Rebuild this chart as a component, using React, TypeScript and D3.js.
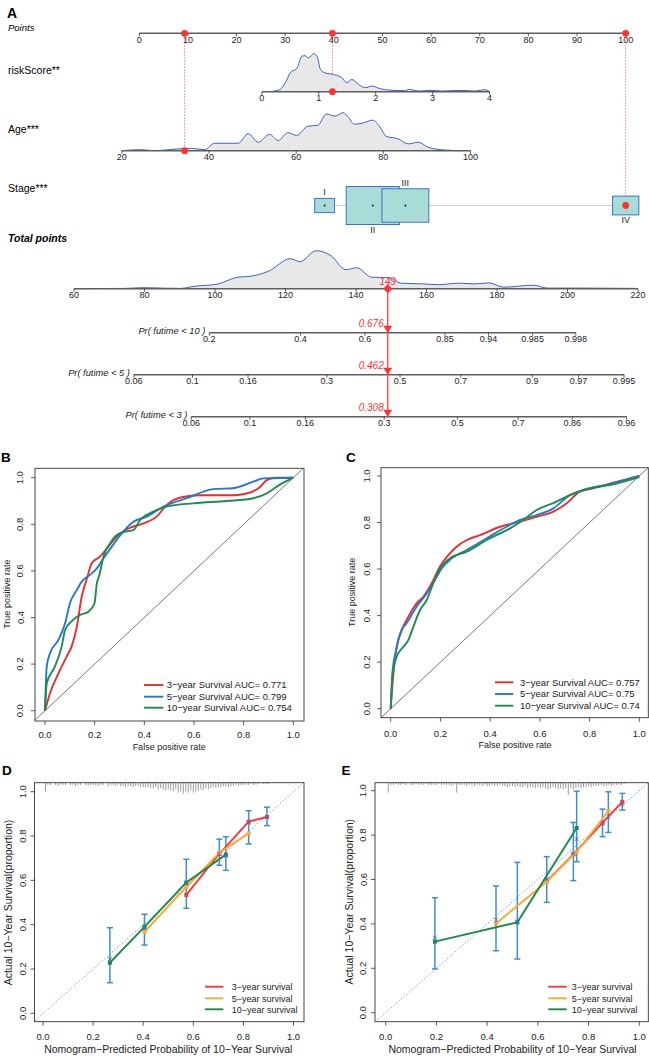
import React from "react";
import * as d3 from "d3";

const W = 649;
const H = 1057;
const FONT = "'Liberation Sans', Arial, Helvetica, sans-serif";

// ---------- A: nomogram ----------
const pointsTicks = [0, 10, 20, 30, 40, 50, 60, 70, 80, 90, 100];
const riskTicks = [0, 1, 2, 3, 4];
const riskPts = [25.2, 72.0]; // points given at riskScore 0 and 4
const ageTicks = [20, 40, 60, 80, 100];
const agePts = [-3.6, 68.1]; // points given at age 20 and 100
const stageLevels = ["I", "II", "III", "IV"];
const stagePts = [38.1, 48.0, 54.7, 100];
const stageCounts = [28, 201, 156, 49];
const totalTicks = [60, 80, 100, 120, 140, 160, 180, 200, 220];

const riskGrid = [0.18, 0.32, 0.41, 0.5, 0.62, 0.7, 0.76, 0.82, 0.91, 0.97, 1.03, 1.11, 1.26, 1.41, 1.49, 1.58, 1.7, 1.82, 1.93, 2.08, 2.23, 2.52, 2.58, 2.75, 2.99, 3.16, 3.51, 3.75, 3.92, 4.0];
const riskDens = [0.3, 2.3, 9, 19, 24, 35.7, 36.3, 34, 38.3, 35.7, 22.3, 19, 17.3, 14, 9, 12.3, 7.3, 4, 5.7, 3, 1.7, 1, 2.3, 0.7, 1.3, 0.7, 1.3, 0.7, 2, 0.3];
const ageGrid = [20, 24.5, 27.6, 31.4, 36, 39, 41.3, 43.6, 46.7, 49, 51.3, 53.9, 55.9, 58.1, 60.1, 62.7, 65, 66.9, 68.9, 70.8, 71.9, 73.4, 75.4, 77.6, 79.2, 80.7, 83.4, 85.7, 88, 90.3, 94.1, 97.9];
const ageDens = [0, 1, 0, 1.3, 2.3, 1, 7.3, 7.3, 7.3, 16.7, 8.3, 16, 10, 17.7, 15, 24, 25, 36, 34, 37.3, 33.3, 26, 27.3, 30, 23.3, 14, 11.7, 6.7, 8.3, 3.3, 0.7, 0];
const totalGrid = [60, 74.5, 79.7, 86, 90.2, 94.3, 100.6, 105.8, 111, 115.2, 121.4, 124.1, 128.7, 132.9, 137.1, 140.2, 144.4, 149.6, 152.7, 159, 163.2, 169.4, 173.6, 177.8, 181.9, 190.3, 194.4, 204.9, 219.4];
const totalDens = [0, 0.3, 1, 0.5, 0.3, 2.5, 4.5, 11, 13, 17.5, 30, 27, 38, 33, 19, 21, 11.5, 11, 5.5, 4.8, 4, 5.5, 4.8, 5.8, 1.5, 3.5, 0.6, 0.6, 0.3];

const patientAge = 34.4;
const patientRisk = 1.24;
const patientStage = "IV";
const patientTotal = 149;

const probLabels = ["Pr( futime < 10 )", "Pr( futime < 5 )", "Pr( futime < 3 )"];
const probTicks10 = [0.2, 0.4, 0.6, 0.85, 0.94, 0.985, 0.998];
const probTicks5 = [0.06, 0.1, 0.16, 0.3, 0.5, 0.7, 0.9, 0.97, 0.995];
const probTicks3 = [0.06, 0.1, 0.16, 0.3, 0.5, 0.7, 0.86, 0.96];
const patientProbs = [0.676, 0.462, 0.308];
const cloglogSlope = 0.032; // per total point

// ---------- B, C: ROC ----------
const rocLabels = ["3\u2212year Survival AUC= ", "5\u2212year Survival AUC= ", "10\u2212year Survival AUC= "];
const aucB = ["0.771", "0.799", "0.754"];
const aucC = ["0.757", "0.75", "0.74"];
const rocB3: [number, number][] = [[0, 0], [0.02, 0.075], [0.054, 0.16], [0.087, 0.232], [0.107, 0.275], [0.128, 0.36], [0.148, 0.49], [0.171, 0.575], [0.188, 0.633], [0.221, 0.661], [0.255, 0.704], [0.295, 0.754], [0.336, 0.782], [0.396, 0.804], [0.45, 0.833], [0.49, 0.883], [0.55, 0.916], [0.624, 0.925], [0.758, 0.925], [0.812, 0.932], [0.866, 0.96], [0.893, 0.99], [0.933, 1.0], [1, 1]];
const rocB5: [number, number][] = [[0, 0], [0.007, 0.19], [0.02, 0.246], [0.054, 0.304], [0.081, 0.375], [0.1, 0.46], [0.128, 0.518], [0.148, 0.554], [0.181, 0.583], [0.208, 0.61], [0.235, 0.653], [0.269, 0.704], [0.309, 0.761], [0.356, 0.811], [0.41, 0.833], [0.477, 0.876], [0.571, 0.912], [0.678, 0.951], [0.758, 0.955], [0.839, 0.983], [0.879, 0.997], [1, 1]];
const rocB10: [number, number][] = [[0, 0], [0.007, 0.117], [0.04, 0.19], [0.067, 0.275], [0.081, 0.347], [0.107, 0.383], [0.141, 0.411], [0.175, 0.425], [0.199, 0.46], [0.208, 0.54], [0.221, 0.59], [0.235, 0.66], [0.262, 0.718], [0.289, 0.754], [0.322, 0.768], [0.356, 0.775], [0.383, 0.818], [0.436, 0.854], [0.49, 0.876], [0.597, 0.89], [0.732, 0.9], [0.839, 0.912], [0.893, 0.933], [0.946, 0.97], [1, 1]];
const rocC3: [number, number][] = [[0, 0], [0.011, 0.152], [0.024, 0.266], [0.044, 0.338], [0.064, 0.381], [0.104, 0.453], [0.131, 0.481], [0.165, 0.539], [0.198, 0.611], [0.232, 0.66], [0.265, 0.696], [0.306, 0.725], [0.359, 0.746], [0.44, 0.782], [0.52, 0.804], [0.587, 0.825], [0.654, 0.847], [0.708, 0.883], [0.761, 0.933], [0.815, 0.947], [0.895, 0.971], [1, 1]];
const rocC5: [number, number][] = [[0, 0], [0.008, 0.166], [0.022, 0.252], [0.044, 0.338], [0.064, 0.367], [0.104, 0.438], [0.145, 0.495], [0.178, 0.553], [0.205, 0.603], [0.245, 0.646], [0.306, 0.682], [0.386, 0.732], [0.466, 0.782], [0.52, 0.811], [0.587, 0.832], [0.654, 0.861], [0.721, 0.918], [0.775, 0.94], [0.88, 0.965], [1, 1]];
const rocC10: [number, number][] = [[0, 0], [0.008, 0.152], [0.024, 0.223], [0.051, 0.266], [0.071, 0.295], [0.091, 0.352], [0.118, 0.424], [0.145, 0.467], [0.171, 0.539], [0.198, 0.603], [0.238, 0.646], [0.306, 0.675], [0.386, 0.725], [0.48, 0.775], [0.533, 0.811], [0.587, 0.854], [0.654, 0.883], [0.721, 0.918], [0.788, 0.943], [0.9, 0.965], [1, 0.995]];
const rocColors = ["#ec2d2d", "#1f7bcc", "#1f8c4c"];

// ---------- D, E: calibration ----------
const calLabels = ["3\u2212year survival", "5\u2212year survival", "10\u2212year survival"];
const calColors = ["#ff3535", "#ffa834", "#1f8a4c"];
type CalPt = { x: number; y: number; lo?: number; hi?: number };
const calD3: CalPt[] = [{ x: 0.572, y: 0.534 }, { x: 0.704, y: 0.72 }, { x: 0.821, y: 0.865, lo: 0.764, hi: 0.914 }, { x: 0.894, y: 0.886, lo: 0.847, hi: 0.93 }];
const calD5: CalPt[] = [{ x: 0.405, y: 0.368, lo: 0.308, hi: 0.447 }, { x: 0.572, y: 0.57 }, { x: 0.704, y: 0.725, lo: 0.668, hi: 0.786 }, { x: 0.821, y: 0.812 }];
const calD10: CalPt[] = [{ x: 0.267, y: 0.228, lo: 0.138, hi: 0.386 }, { x: 0.405, y: 0.39 }, { x: 0.572, y: 0.59, lo: 0.474, hi: 0.695 }, { x: 0.73, y: 0.716, lo: 0.645, hi: 0.797 }];
const crossD: [number, number][] = [[0.267, 0.245], [0.405, 0.383], [0.572, 0.585], [0.704, 0.72], [0.73, 0.71], [0.821, 0.86], [0.894, 0.886]];
const calE3: CalPt[] = [{ x: 0.635, y: 0.593, lo: 0.497, hi: 0.703 }, { x: 0.74, y: 0.713, lo: 0.595, hi: 0.857 }, { x: 0.855, y: 0.856, lo: 0.793, hi: 0.917 }, { x: 0.933, y: 0.95, lo: 0.913, hi: 0.988 }];
const calE5: CalPt[] = [{ x: 0.435, y: 0.402, lo: 0.279, hi: 0.571 }, { x: 0.635, y: 0.59 }, { x: 0.753, y: 0.725, lo: 0.68, hi: 0.998 }, { x: 0.878, y: 0.908, lo: 0.812, hi: 0.995 }];
const calE10: CalPt[] = [{ x: 0.194, y: 0.32, lo: 0.197, hi: 0.518 }, { x: 0.519, y: 0.407, lo: 0.242, hi: 0.677 }, { x: 0.753, y: 0.832 }];
const crossE: [number, number][] = [[0.194, 0.338], [0.435, 0.417], [0.519, 0.41], [0.635, 0.6], [0.74, 0.715], [0.753, 0.782], [0.855, 0.85], [0.878, 0.883], [0.933, 0.94]];
// rug counts per 0.01 bin of predicted probability, starting at 0.01
const rugD = [8, 2, 2, 0, 2, 3, 2, 2, 2, 0, 2, 2, 3, 2, 2, 0, 2, 3, 2, 2, 2, 3, 2, 2, 0, 3, 2, 2, 3, 2, 3, 3, 4, 3, 3, 4, 3, 3, 4, 4, 4, 4, 5, 5, 4, 6, 5, 6, 7, 6, 7, 8, 6, 9, 8, 10, 8, 9, 7, 9, 8, 7, 6, 7, 5, 6, 5, 4, 5, 4, 4, 3, 3, 4, 3, 3, 2, 3, 2, 2, 2, 2, 1, 2, 2, 1, 0, 1, 1, 1];
const rugE = [9, 2, 2, 1, 2, 2, 1, 2, 0, 2, 2, 1, 2, 2, 2, 1, 2, 2, 2, 2, 1, 2, 2, 2, 2, 3, 2, 9, 2, 2, 2, 3, 2, 2, 3, 2, 2, 3, 2, 3, 3, 2, 3, 3, 2, 3, 3, 4, 3, 3, 4, 3, 4, 4, 3, 5, 4, 4, 5, 4, 5, 4, 5, 6, 5, 4, 5, 6, 5, 6, 5, 11, 5, 6, 5, 4, 5, 4, 4, 3, 4, 3, 3, 3, 2, 3, 3, 2, 3, 2, 2, 2, 2, 1];
const unitTicks = [0, 0.2, 0.4, 0.6, 0.8, 1.0];

// ---------- helpers ----------
const AXIS = "#5e5e5e";
const RED = "#ff3030";

function NomoAxis({ x1, x2, y, ticks }: { x1: number; x2: number; y: number; ticks: { x: number; label: string }[] }) {
  return (
    <g>
      <line x1={x1} x2={x2} y1={y} y2={y} stroke={AXIS} strokeWidth={1.5} />
      {ticks.map((t, i) => (
        <g key={i}>
          <line x1={t.x} x2={t.x} y1={y} y2={y + 3} stroke="#333" strokeWidth={0.8} />
          <text x={t.x} y={y + 9.6} fontSize={9} textAnchor="middle" fill="#222">{t.label}</text>
        </g>
      ))}
    </g>
  );
}

function Density({ xs, ds, toX, y }: { xs: number[]; ds: number[]; toX: (v: number) => number; y: number }) {
  const hs = d3.scaleLinear().domain([0, d3.max(ds) as number]).range([0, 38]);
  const pts: [number, number][] = xs.map((v, i) => [toX(v), y - hs(ds[i])]);
  const area = d3.area<[number, number]>().x((d) => d[0]).y0(y).y1((d) => d[1]).curve(d3.curveMonotoneX);
  const line = d3.line<[number, number]>().x((d) => d[0]).y((d) => d[1]).curve(d3.curveMonotoneX);
  return (
    <g>
      <path d={area(pts) || ""} fill="#e8e8e8" />
      <path d={line(pts) || ""} fill="none" stroke="#3c62c6" strokeWidth={1} />
    </g>
  );
}

function Nomogram() {
  const px = d3.scaleLinear().domain([0, 100]).range([139.3, 625.7]);
  const riskToPts = d3.scaleLinear().domain([0, 4]).range(riskPts);
  const ageToPts = d3.scaleLinear().domain([20, 100]).range(agePts);
  const tx = d3.scaleLinear().domain([60, 220]).range([74, 638]);
  const rx = (v: number) => px(riskToPts(v));
  const ax = (v: number) => px(ageToPts(v));
  const cloglog = (p: number) => Math.log(-Math.log(1 - p));

  const yPts = 33.3, yRisk = 91.7, yAge = 150.7, yStage = 205.5, yTot = 288.7;
  const yProb = [332.7, 374.7, 416.7];
  const probTickSets = [probTicks10, probTicks5, probTicks3];

  const boxH = d3.scaleSqrt().domain([0, d3.max(stageCounts) as number]).range([0, 38]);
  const stageX = stagePts.map((p) => px(p));
  const si = stageLevels.indexOf(patientStage);

  const patRiskX = rx(patientRisk);
  const patAgeX = ax(patientAge);
  const patStageX = stageX[si];
  const patTotX = tx(patientTotal);

  return (
    <g>
      <text x={7} y={18} fontSize={14} fontWeight="bold">A</text>
      <text x={8} y={31} fontSize={9.5} fontStyle="italic">Points</text>
      <text x={8} y={74} fontSize={10.5}>riskScore**</text>
      <text x={8} y={133} fontSize={10.5}>Age***</text>
      <text x={8} y={192} fontSize={10.5}>Stage***</text>
      <text x={8} y={242} fontSize={10.5} fontWeight="bold" fontStyle="italic">Total points</text>

      {/* dotted guides from points axis */}
      {[
        [patAgeX, yAge],
        [patRiskX, yRisk],
        [patStageX, yStage],
      ].map(([x, y2], i) => (
        <line key={i} x1={x} x2={x} y1={yPts} y2={y2} stroke="#ff5a5a" strokeWidth={0.8} strokeDasharray="1.5,1.5" />
      ))}

      <NomoAxis x1={px(0)} x2={px(100)} y={yPts} ticks={pointsTicks.map((t) => ({ x: px(t), label: String(t) }))} />

      <Density xs={riskGrid} ds={riskDens} toX={rx} y={yRisk} />
      <NomoAxis x1={rx(0)} x2={rx(4)} y={yRisk} ticks={riskTicks.map((t) => ({ x: rx(t), label: String(t) }))} />

      <Density xs={ageGrid} ds={ageDens} toX={ax} y={yAge} />
      <NomoAxis x1={ax(20)} x2={ax(100)} y={yAge} ticks={ageTicks.map((t) => ({ x: ax(t), label: String(t) }))} />

      {/* stage boxes */}
      <line x1={stageX[0]} x2={stageX[3]} y1={yStage} y2={yStage} stroke="#cfcfcf" strokeWidth={1.2} />
      {stageLevels.map((lv, i) => {
        const h = boxH(stageCounts[i]);
        const w = h * 1.4;
        const cx = stageX[i];
        const above = i % 2 === 0;
        return (
          <g key={lv}>
            <rect x={cx - w / 2} y={yStage - h / 2} width={w} height={h} fill="#a8dcd6" stroke="#4470c8" strokeWidth={1} />
            <circle cx={cx} cy={yStage} r={0.9} fill="#111" />
            <text x={cx} y={above ? yStage - h / 2 - 3 : yStage + h / 2 + 8.5} fontSize={9} textAnchor="middle" fill="#222">{lv}</text>
          </g>
        );
      })}

      <Density xs={totalGrid} ds={totalDens} toX={tx} y={yTot} />
      <NomoAxis x1={tx(60)} x2={tx(220)} y={yTot} ticks={totalTicks.map((t) => ({ x: tx(t), label: String(t) }))} />

      {/* probability axes */}
      {probTickSets.map((ticks, k) => {
        const ref = cloglog(patientProbs[k]);
        const toX = (p: number) => tx(patientTotal + (cloglog(p) - ref) / cloglogSlope);
        const x1 = toX(ticks[0]);
        const x2 = toX(ticks[ticks.length - 1]);
        return (
          <g key={k}>
            <text x={x1 - 4} y={yProb[k] + 1.5} fontSize={9.3} fontStyle="italic" textAnchor="end" fill="#222">{probLabels[k]}</text>
            <NomoAxis x1={x1} x2={x2} y={yProb[k]} ticks={ticks.map((t) => ({ x: toX(t), label: String(t) }))} />
          </g>
        );
      })}

      {/* patient markers */}
      {[
        [patAgeX, yPts], [patRiskX, yPts], [patStageX, yPts],
        [patRiskX, yRisk], [patAgeX, yAge], [patStageX, yStage],
      ].map(([x, y], i) => (
        <circle key={i} cx={x} cy={y} r={3.4} fill={RED} />
      ))}
      <line x1={patTotX} x2={patTotX} y1={yTot} y2={yProb[2]} stroke="#ff4a4a" strokeWidth={1.4} />
      <path d={`M${patTotX},${yTot - 4.5}L${patTotX + 4.5},${yTot}L${patTotX},${yTot + 4.5}L${patTotX - 4.5},${yTot}Z`} fill={RED} />
      <text x={patTotX} y={yTot - 3.5} fontSize={10} fontStyle="italic" textAnchor="middle" fill={RED}>{patientTotal}</text>
      {yProb.map((y, k) => (
        <g key={k}>
          <path d={`M${patTotX - 4.5},${y - 7}L${patTotX + 4.5},${y - 7}L${patTotX},${y}Z`} fill={RED} />
          <text x={patTotX - 4} y={y - 6} fontSize={10} fontStyle="italic" textAnchor="end" fill={RED}>{patientProbs[k]}</text>
        </g>
      ))}
    </g>
  );
}

type PanelGeom = {
  xr: [number, number];
  yr: [number, number];
  box: [number, number, number, number]; // left, right, top, bottom
  xLabY: number;
  xTitleY: number;
  yLabX: number;
  yTitleX: number;
  letter: string;
  letterX: number;
  letterY: number;
};

function Frame({ g, xTitle, yTitle, titleSize, tickSize, x, y }: { g: PanelGeom; xTitle: string; yTitle: string; titleSize: number; tickSize: number; x: d3.ScaleLinear<number, number>; y: d3.ScaleLinear<number, number> }) {
  const [bl, br, bt, bb] = g.box;
  const ymid = (g.yr[0] + g.yr[1]) / 2;
  return (
    <g>
      <text x={g.letterX} y={g.letterY} fontSize={13.5} fontWeight="bold">{g.letter}</text>
      <rect x={bl} y={bt} width={br - bl} height={bb - bt} fill="none" stroke="#333" strokeWidth={0.9} />
      {unitTicks.map((t) => (
        <g key={"x" + t}>
          <line x1={x(t)} x2={x(t)} y1={bb} y2={bb + 4} stroke="#333" strokeWidth={0.8} />
          <text x={x(t)} y={g.xLabY} fontSize={tickSize} textAnchor="middle" fill="#222">{t.toFixed(1)}</text>
        </g>
      ))}
      {unitTicks.map((t) => (
        <g key={"y" + t}>
          <line x1={bl - 4} x2={bl} y1={y(t)} y2={y(t)} stroke="#333" strokeWidth={0.8} />
          <text x={g.yLabX} y={y(t)} fontSize={tickSize} textAnchor="middle" fill="#222" transform={`rotate(-90,${g.yLabX},${y(t)})`}>{t.toFixed(1)}</text>
        </g>
      ))}
      <text x={(g.xr[0] + g.xr[1]) / 2} y={g.xTitleY} fontSize={titleSize} textAnchor="middle" fill="#222">{xTitle}</text>
      <text x={g.yTitleX} y={ymid} fontSize={titleSize} textAnchor="middle" fill="#222" transform={`rotate(-90,${g.yTitleX},${ymid})`}>{yTitle}</text>
    </g>
  );
}

function RocPanel({ g, curves, aucs, legend }: { g: PanelGeom; curves: [number, number][][]; aucs: string[]; legend: { x1: number; x2: number; tx: number; ys: number[] } }) {
  const x = d3.scaleLinear().domain([0, 1]).range(g.xr);
  const y = d3.scaleLinear().domain([0, 1]).range(g.yr);
  const line = d3.line<[number, number]>().x((d) => x(d[0])).y((d) => y(d[1])).curve(d3.curveMonotoneX);
  const [bl, br, bt, bb] = g.box;
  const id = "clip" + g.letter;
  return (
    <g>
      <clipPath id={id}><rect x={bl} y={bt} width={br - bl} height={bb - bt} /></clipPath>
      <line x1={x(-0.04)} y1={y(-0.04)} x2={x(1.04)} y2={y(1.04)} stroke="#555" strokeWidth={0.8} clipPath={`url(#${id})`} />
      {curves.map((c, i) => (
        <path key={i} d={line(c) || ""} fill="none" stroke={rocColors[i]} strokeWidth={1.9} />
      ))}
      <Frame g={g} x={x} y={y} xTitle="False positive rate" yTitle="True positive rate" titleSize={9} tickSize={9.5} />
      {rocLabels.map((lab, i) => (
        <g key={i}>
          <line x1={legend.x1} x2={legend.x2} y1={legend.ys[i]} y2={legend.ys[i]} stroke={rocColors[i]} strokeWidth={1.9} />
          <text x={legend.tx} y={legend.ys[i] + 3.4} fontSize={9.5} fill="#222">{lab + aucs[i]}</text>
        </g>
      ))}
    </g>
  );
}

function CalPanel({ g, series, crosses, rug, legend }: { g: PanelGeom; series: CalPt[][]; crosses: [number, number][]; rug: number[]; legend: { x1: number; x2: number; tx: number; ys: number[] } }) {
  const x = d3.scaleLinear().domain([0, 1]).range(g.xr);
  const y = d3.scaleLinear().domain([0, 1]).range(g.yr);
  const rugLen = d3.scaleLinear().domain([0, 10]).range([0, 11]);
  const line = d3.line<CalPt>().x((d) => x(d.x)).y((d) => y(d.y));
  const [bl, br, bt, bb] = g.box;
  const id = "clip" + g.letter;
  const bars = series.flat().filter((p) => p.lo !== undefined);
  return (
    <g>
      <clipPath id={id}><rect x={bl} y={bt} width={br - bl} height={bb - bt} /></clipPath>
      <line x1={x(-0.05)} y1={y(-0.05)} x2={x(1.05)} y2={y(1.05)} stroke="#4b9ad8" strokeWidth={1} strokeDasharray="1.2,2.2" clipPath={`url(#${id})`} />
      {rug.map((c, i) =>
        c > 0 ? (
          <line key={i} x1={x((i + 1) / 100)} x2={x((i + 1) / 100)} y1={bt} y2={bt + rugLen(c)} stroke="#808080" strokeWidth={0.8} />
        ) : null
      )}
      {bars.map((p, i) => (
        <g key={i} stroke="#3a8fd5" strokeWidth={1.5}>
          <line x1={x(p.x)} x2={x(p.x)} y1={y(p.lo as number)} y2={y(p.hi as number)} />
          <line x1={x(p.x) - 3} x2={x(p.x) + 3} y1={y(p.lo as number)} y2={y(p.lo as number)} />
          <line x1={x(p.x) - 3} x2={x(p.x) + 3} y1={y(p.hi as number)} y2={y(p.hi as number)} />
        </g>
      ))}
      {series.map((s, i) => (
        <g key={i}>
          <path d={line(s) || ""} fill="none" stroke={calColors[i]} strokeWidth={1.9} />
          {s.map((p, j) => (
            <rect key={j} x={x(p.x) - 2} y={y(p.y) - 2} width={4} height={4} fill={calColors[i]} />
          ))}
        </g>
      ))}
      {crosses.map(([cx, cy], i) => (
        <g key={i} stroke="#4a6ad0" strokeWidth={0.9}>
          <line x1={x(cx) - 2} x2={x(cx) + 2} y1={y(cy) - 2} y2={y(cy) + 2} />
          <line x1={x(cx) - 2} x2={x(cx) + 2} y1={y(cy) + 2} y2={y(cy) - 2} />
        </g>
      ))}
      <Frame g={g} x={x} y={y} xTitle={"Nomogram\u2212Predicted Probability of 10\u2212Year Survival"} yTitle={"Actual 10\u2212Year Survival(proportion)"} titleSize={10.5} tickSize={9.5} />
      {calLabels.map((lab, i) => (
        <g key={i}>
          <line x1={legend.x1} x2={legend.x2} y1={legend.ys[i]} y2={legend.ys[i]} stroke={calColors[i]} strokeWidth={1.9} />
          <text x={legend.tx} y={legend.ys[i] + 3.3} fontSize={9} fill="#222">{lab}</text>
        </g>
      ))}
    </g>
  );
}

export default function App() {
  const gB: PanelGeom = { xr: [45, 293.3], yr: [710.7, 477.7], box: [35, 304, 468.3, 721], xLabY: 738, xTitleY: 749.5, yLabX: 23.5, yTitleX: 10, letter: "B", letterX: 1, letterY: 462 };
  const gC: PanelGeom = { xr: [390.7, 639.3], yr: [708.7, 476], box: [381, 648.3, 467.7, 717.7], xLabY: 736.5, xTitleY: 748, yLabX: 370, yTitleX: 355, letter: "C", letterX: 346, letterY: 462 };
  const gD: PanelGeom = { xr: [43, 293.5], yr: [1013.3, 791.7], box: [34.5, 304, 782.7, 1021.7], xLabY: 1040, xTitleY: 1053, yLabX: 26.5, yTitleX: 11.5, letter: "D", letterX: 2, letterY: 775 };
  const gE: PanelGeom = { xr: [385.7, 639.3], yr: [1012.7, 790.7], box: [375, 648.3, 782.7, 1021.7], xLabY: 1040, xTitleY: 1053, yLabX: 366.5, yTitleX: 353, letter: "E", letterX: 341.5, letterY: 775 };
  return (
    <svg width={W} height={H} viewBox={`0 0 ${W} ${H}`} style={{ position: "absolute", left: 0, top: 0, display: "block", background: "#fff" }} fontFamily={FONT}>
      <rect width={W} height={H} fill="#fff" />
      <Nomogram />
      <RocPanel g={gB} curves={[rocB3, rocB5, rocB10]} aucs={aucB} legend={{ x1: 144, x2: 163.3, tx: 166.7, ys: [685, 696.7, 707.7] }} />
      <RocPanel g={gC} curves={[rocC3, rocC5, rocC10]} aucs={aucC} legend={{ x1: 495, x2: 513.3, tx: 520, ys: [682.3, 694, 705.7] }} />
      <CalPanel g={gD} series={[calD3, calD5, calD10]} crosses={crossD} rug={rugD} legend={{ x1: 205, x2: 223.3, tx: 231.7, ys: [986.7, 998.3, 1009.3] }} />
      <CalPanel g={gE} series={[calE3, calE5, calE10]} crosses={crossE} rug={rugE} legend={{ x1: 548.3, x2: 566.7, tx: 571.7, ys: [986.7, 998.3, 1009.3] }} />
    </svg>
  );
}
